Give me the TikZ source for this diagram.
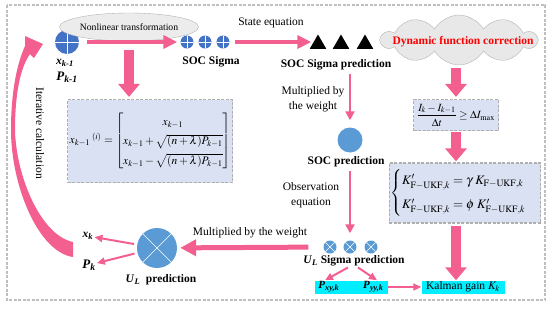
\documentclass[tikz,border=0pt]{standalone}
\usepackage{amsmath}
\usepackage{mathptmx}
\usepackage{fontspec}
\setmainfont{Liberation Serif}
\usetikzlibrary{arrows.meta, positioning, shapes.geometric, shapes.symbols}
\definecolor{pinkarr}{RGB}{243,95,143}
\definecolor{darkblue}{RGB}{68,114,196}
\definecolor{lightblue}{RGB}{91,155,213}
\definecolor{boxfill}{RGB}{218,225,242}
\definecolor{boxline}{RGB}{175,175,175}
\definecolor{cyanbox}{RGB}{0,238,255}
\newcommand{\bivar}[2]{\textbf{\textit{#1}}\textsubscript{\textbf{\textit{#2}}}}

\begin{document}
\begin{tikzpicture}[
    x=1pt, y=1pt,
    lab/.style={font=\fontsize{11.5}{14.5}\selectfont, align=center, inner sep=1pt},
    blab/.style={font=\fontsize{11.5}{14.5}\selectfont\bfseries, align=center, inner sep=1pt},
    dbox/.style={
        rectangle, draw=boxline, dash pattern=on 3pt off 1.5pt, line width=1.2pt,
        fill=boxfill, inner sep=1.5pt
    },
    cbox/.style={rectangle, fill=cyanbox, inner sep=0pt, minimum height=13pt},
    sigplus/.style={
        circle, fill=darkblue, inner sep=0pt, minimum size=13pt,
        path picture={\draw[white, line width=0.5pt]
            (path picture bounding box.north) -- (path picture bounding box.south)
            (path picture bounding box.west) -- (path picture bounding box.east);}
    },
    sigcross/.style={
        circle, fill=lightblue, inner sep=0pt, minimum size=13pt,
        path picture={\draw[white, line width=0.5pt]
            (path picture bounding box.north west) -- (path picture bounding box.south east)
            (path picture bounding box.south west) -- (path picture bounding box.north east);}
    },
    tri/.style={regular polygon, regular polygon sides=3, fill=black, inner sep=0pt, minimum size=19pt},
    parr/.style={-{Triangle[length=14pt, width=13pt]}, line width=4pt, pinkarr},
    marr/.style={-{Triangle[length=16pt, width=16pt]}, line width=5pt, pinkarr},
    barr/.style={-{Triangle[length=13pt, width=21pt]}, line width=10pt, pinkarr},
    tarr/.style={-{Triangle[length=9pt, width=9pt]}, line width=2.5pt, pinkarr},
    sarr/.style={-{Triangle[length=8pt, width=7pt]}, line width=2pt, pinkarr}
]
\useasboundingbox (0,0) rectangle (550,-309);

% Frame
\draw[boxline!80, line width=1.2pt, dash pattern=on 3pt off 1.5pt] (7,-5) rectangle (545,-300);

% Previous state
\node[sigplus, minimum size=24pt] (xprev) at (67,-42) {};
\node[lab] (xprevlab) at (65,-63) {\bivar{x}{k-1}};
\node[lab, font=\fontsize{13}{15}\selectfont] (pprevlab) at (67,-77) {\bivar{P}{k-1}};

% Nonlinear transformation
\node[ellipse, draw=gray!60, fill=gray!15, minimum width=106pt, minimum height=28pt,
      inner sep=0pt, font=\fontsize{9.7}{11}\selectfont] (nonlin) at (129,-27) {Nonlinear transformation};

% SOC Sigma
\node[sigplus] (sig1) at (187,-42) {};
\node[sigplus] (sig2) at (205,-42) {};
\node[sigplus] (sig3) at (223,-42) {};
\node[blab] (sigmalab) at (211,-62) {SOC Sigma};
\node[lab] (statelab) at (271,-23) {State equation};

% SOC Sigma prediction
\node[tri] (tri1) at (318,-44) {};
\node[tri] (tri2) at (341,-44) {};
\node[tri] (tri3) at (365,-44) {};
\node[blab] (socsiglab) at (336,-65) {SOC Sigma prediction};

% Dynamic function correction
\node[cloud, cloud puffs=10, cloud puff arc=120, aspect=3, draw=gray!60, fill=gray!18,
      minimum width=155pt, minimum height=50pt, inner sep=0pt] (dyn) at (459,-40) {};
\node[blab, text=red] (dyntxt) at (463,-42) {Dynamic function correction};

% Sigma points
\node[dbox, minimum width=165pt, minimum height=83pt, font=\fontsize{11.5}{14}\selectfont] (fbox) at (150,-141)
    {$\displaystyle {x_{k-1}}^{\;(i)}=\renewcommand{\arraystretch}{1.4}\begin{bmatrix}
        x_{k-1}\\
        x_{k-1}+\sqrt{(n+\lambda)P_{k-1}}\\
        x_{k-1}-\sqrt{(n+\lambda)P_{k-1}}
    \end{bmatrix}$};

% Current change
\node[dbox, minimum width=85pt, minimum height=31pt, font=\fontsize{11}{13}\selectfont] (ibox) at (456,-115)
    {$\dfrac{I_k-I_{k-1}}{\Delta t}\ge\Delta I_{\max}$};

% Gain correction
\node[dbox, minimum width=144pt, minimum height=60pt, font=\fontsize{13}{16}\selectfont] (kbox) at (465,-193)
    {$\begin{cases}
        K^{\prime}_{\mathrm{F-UKF},k}=\gamma\;K_{\mathrm{F-UKF},k}\\[5pt]
        K^{\prime}_{\mathrm{F-UKF},k}=\phi\;K^{\prime}_{\mathrm{F-UKF},k}
    \end{cases}$};

% Kalman gain
\node[cbox, minimum width=83pt, lab] (kal) at (463,-287) {Kalman gain $K_k$};

% SOC prediction
\node[lab] (weightlab) at (313,-99) {Multiplied by\\the weight};
\node[circle, fill=lightblue, minimum size=25pt, inner sep=0pt] (socp) at (350,-140) {};
\node[blab] (socplab) at (346,-162) {SOC prediction};
\node[lab] (obslab) at (311,-195) {Observation\\equation};

% U_L Sigma prediction
\node[sigcross] (usig1) at (330,-247) {};
\node[sigcross] (usig2) at (350,-247) {};
\node[sigcross] (usig3) at (371,-247) {};
\node[blab] (usiglab) at (354,-261) {\textit{U}\textsubscript{\textit{L}} Sigma prediction};
\node[cbox, minimum width=73pt, font=\fontsize{11}{13}\selectfont] (pbox) at (351,-287)
    {\bivar{P}{xy,k}\hspace{24pt}\bivar{P}{yy,k}};

% U_L prediction
\node[sigcross, minimum size=40pt] (ubig) at (157,-248) {};
\node[blab] (ulab) at (161,-280) {\textit{U}\textsubscript{\textit{L}}\ \ prediction};
\node[lab] (mweightlab) at (250,-233) {Multiplied by the weight};
\node[lab] (xk) at (88,-236) {\bivar{x}{k}};
\node[lab, font=\fontsize{13}{15}\selectfont] (pk) at (89,-265) {\bivar{P}{k}};

% Iterative calculation
\node[lab, rotate=-90] (iter) at (40,-133) {Iterative calculation};
\fill[pinkarr] (73,-242) .. controls (40,-235) and (16,-175) .. (15,-130)
    .. controls (15,-95) and (20,-68) .. (30,-54) -- (34,-58) -- (43,-44) -- (25,-36) -- (25,-46)
    .. controls (16,-66) and (11,-95) .. (11,-130)
    .. controls (11,-185) and (38,-252) .. (73,-257) -- cycle;

% Arrows
\draw[parr, shorten <=8pt, shorten >=3pt] (xprev) -- (sig1);
\draw[parr, shorten <=5pt, shorten >=1pt] (sig3.east) -- (sig3.east -| tri1.west);
\draw[barr, shorten <=9pt, shorten >=2pt] (nonlin.south) -- (nonlin.south |- fbox.north);
\draw[barr, shorten <=3pt, shorten >=2pt] (dyn.south -| ibox) -- (ibox.north);
\draw[barr, shorten <=1pt, shorten >=1pt] (ibox.south) -- (ibox.south |- kbox.north);
\draw[barr, shorten <=2pt] (kbox.south -| ibox) -- (kal.north -| ibox);
\draw[tarr, shorten <=3pt, shorten >=7pt] (socsiglab.south -| socp) -- (socp.north);
\draw[tarr, shorten <=3pt, shorten >=7pt] (socplab.south -| usig2) -- (usig2.north);
\draw[marr, shorten <=15pt, shorten >=3pt] (usig1) -- (ubig);
\draw[sarr] ([xshift=-6pt]usiglab.south) -- ([xshift=-26pt]pbox.north);
\draw[sarr] ([xshift=4pt]usiglab.south) -- ([xshift=26pt]pbox.north);
\draw[sarr] (pbox) -- (kal);
\draw[sarr, shorten <=3pt] (ubig) -- (xk);
\draw[sarr, shorten <=3pt] (ubig) -- (pk);

\end{tikzpicture}
\end{document}
